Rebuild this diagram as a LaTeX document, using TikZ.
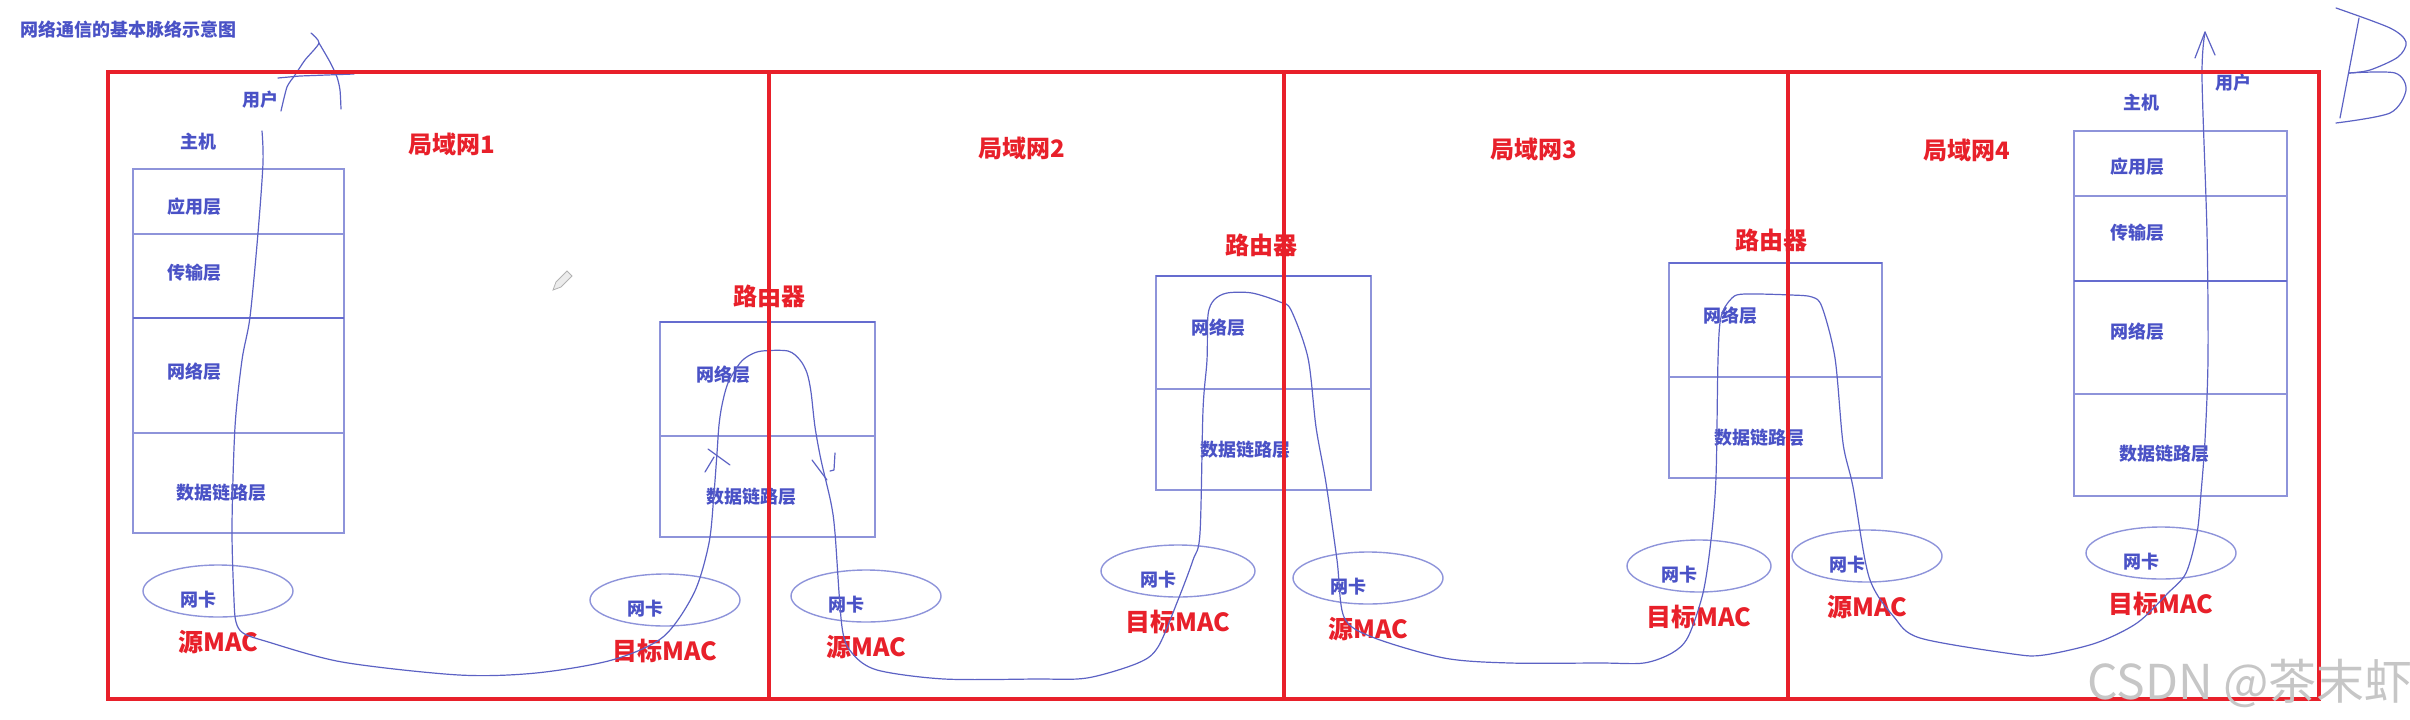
\documentclass[tikz,border=0pt]{standalone}
\usepackage{fontspec}
\setmainfont{Noto Sans CJK SC}
\usetikzlibrary{positioning,shapes.geometric}
\definecolor{lanred}{HTML}{E8202A}
\definecolor{inkblue}{HTML}{4A52C6}
\definecolor{boxline}{HTML}{8E94DA}
\definecolor{penline}{HTML}{5C62C4}

\begin{document}
\begin{tikzpicture}[x=0.5pt, y=-0.5pt,
  lan/.style={text=lanred, font=\bfseries\fontsize{12}{12}\selectfont, inner sep=0pt},
  mac/.style={text=lanred, font=\bfseries\fontsize{12.5}{12.5}\selectfont, inner sep=0pt},
  lyr/.style={text=inkblue, font=\bfseries\fontsize{9}{9}\selectfont, inner sep=0pt, anchor=west},
  tag/.style={text=inkblue, font=\bfseries\fontsize{9}{9}\selectfont, inner sep=0pt},
  nic/.style={draw=boxline, line width=0.7pt, ellipse, inner sep=0pt, minimum width=75pt, minimum height=26pt},
  stack/.style={draw=boxline, line width=0.75pt},
  sep/.style={draw=inkblue!85, line width=1.1pt},
  pen/.style={draw=penline, line width=0.6pt, line cap=round, line join=round},
  frame/.style={draw=lanred, line width=1.6pt}
]
\useasboundingbox (0,0) rectangle (2410,719);

\node[tag, anchor=west] (title) at (20,30) {网络通信的基本脉络示意图};

% host A
\draw[stack] (133,169) rectangle (344,533);
\draw[stack] (133,234) -- (344,234);
\draw[sep] (133,318) -- (344,318);
\draw[stack] (133,433) -- (344,433);
\node[tag] (userA) at (260,100) {用户};
\node[tag] (hostA) at (198,142) {主机};
\node[lyr] (appA) at (167,207) {应用层};
\node[lyr] (tcpA) at (167,273) {传输层};
\node[lyr] (ipA) at (167,372) {网络层};
\node[lyr] (dlA) at (176,493) {数据链路层};

% routers
\draw[stack] (660,322) rectangle (875,537);
\draw[sep] (660,322) -- (875,322);
\draw[stack] (660,436) -- (875,436);
\node[lan] (rt1) at (769,296) {路由器};
\node[lyr] (ip1) at (696,375) {网络层};
\node[lyr] (dl1) at (706,497) {数据链路层};

\draw[stack] (1156,276) rectangle (1371,490);
\draw[sep] (1156,276) -- (1371,276);
\draw[stack] (1156,389) -- (1371,389);
\node[lan] (rt2) at (1261,245) {路由器};
\node[lyr] (ip2) at (1191,328) {网络层};
\node[lyr] (dl2) at (1200,450) {数据链路层};

\draw[stack] (1669,263) rectangle (1882,478);
\draw[sep] (1669,263) -- (1882,263);
\draw[stack] (1669,377) -- (1882,377);
\node[lan] (rt3) at (1771,240) {路由器};
\node[lyr] (ip3) at (1703,316) {网络层};
\node[lyr] (dl3) at (1714,438) {数据链路层};

% host B
\draw[stack] (2074,131) rectangle (2287,496);
\draw[stack] (2074,196) -- (2287,196);
\draw[sep] (2074,281) -- (2287,281);
\draw[stack] (2074,394) -- (2287,394);
\node[tag] (userB) at (2233,83) {用户};
\node[tag] (hostB) at (2141,103) {主机};
\node[lyr] (appB) at (2110,167) {应用层};
\node[lyr] (tcpB) at (2110,233) {传输层};
\node[lyr] (ipB) at (2110,332) {网络层};
\node[lyr] (dlB) at (2119,454) {数据链路层};

% LAN titles
\node[lan] (lan1) at (452,144) {局域网1};
\node[lan] (lan2) at (1022,148) {局域网2};
\node[lan] (lan3) at (1534,149) {局域网3};
\node[lan] (lan4) at (1967,150) {局域网4};

% network cards
\node[nic] (e1) at (218,591) {};
\node[nic] (e2) at (665,600) {};
\node[nic] (e3) at (866,596) {};
\node[nic, minimum width=77pt] (e4) at (1178,571) {};
\node[nic] (e5) at (1368,578) {};
\node[nic, minimum width=72pt] (e6) at (1699,566) {};
\node[nic] (e7) at (1867,556) {};
\node[nic] (e8) at (2161,553) {};
\foreach \e in {1,...,8}
  \node[tag] (k\e) at ([shift={(-20,8.5)}]e\e.center) {网卡};

\node[mac] (m1) at ([yshift=-25.5pt]e1.center) {源MAC};
\node[mac] (m2) at ([yshift=-25.5pt]e2.center) {目标MAC};
\node[mac] (m3) at ([yshift=-25.5pt]e3.center) {源MAC};
\node[mac] (m4) at ([yshift=-25.5pt]e4.center) {目标MAC};
\node[mac] (m5) at ([yshift=-25.5pt]e5.center) {源MAC};
\node[mac] (m6) at ([yshift=-25.5pt]e6.center) {目标MAC};
\node[mac] (m7) at ([yshift=-25.5pt]e7.center) {源MAC};
\node[mac] (m8) at ([yshift=-25.5pt]e8.center) {目标MAC};

% hand drawn route
\draw[pen] plot[smooth, tension=0.5] coordinates {
  (262,131) (263,163) (258,233) (250,317) (242,360) (235,427) (232,527)
  (234,600) (236,622) (243,633) (265,641) (342,662) (459,675) (536,673)
  (612,660) (663,637) (694,593) (709,543) (714,493) (717,453) (719,425)
  (722,405) (728,383) (740,363) (750,355) (762,351) (788,351) (800,360)
  (807,373) (811,392) (815,427) (821,460) (831,503) (835,533) (842,627)
  (852,653) (877,670) (944,679) (1036,679) (1087,678) (1138,663) (1158,647)
  (1178,600) (1193,560) (1200,533) (1203,410) (1207,360) (1208,315)
  (1214,300) (1227,293) (1252,293) (1280,302) (1291,310) (1308,358)
  (1316,427) (1326,483) (1337,560) (1344,617) (1372,637) (1444,658)
  (1510,663) (1600,663) (1644,663) (1672,653) (1688,637) (1703,593)
  (1711,540) (1716,477) (1718,360) (1721,317) (1732,298) (1745,294)
  (1791,295) (1812,297) (1822,307) (1835,358) (1843,443) (1853,487)
  (1869,577) (1894,617) (1920,638) (2013,654) (2044,655) (2096,643)
  (2137,623) (2168,593) (2186,573) (2197,533) (2201,493) (2205,440)
  (2208,358) (2207,233) (2202,77) (2205,32)};
\draw[pen] (2195,58) -- (2205,32) -- (2215,55);
% little direction ticks in router 1
\draw[pen] (705,472) -- (714,457);
\draw[pen] (708,449) -- (730,465);
\draw[pen] (812,460) -- (827,480);
\draw[pen] (835,453) -- (834,470) -- (830,471);

% letters A and B
\draw[pen] plot[smooth, tension=0.4] coordinates {(311,33) (319,43) (305,60) (295,75) (287,87) (281,111)};
\draw[pen] plot[smooth, tension=0.4] coordinates {(319,43) (330,62) (337,77) (340,90) (341,109)};
\draw[pen] (278,78) -- (300,76) -- (354,74);
\draw[pen] (2359,18) -- (2340,118);
\draw[pen] plot[smooth, tension=0.5] coordinates {(2336,8) (2390,28) (2406,42) (2398,57) (2370,70) (2349,73)};
\draw[pen] plot[smooth, tension=0.5] coordinates {(2349,73) (2395,73) (2406,90) (2390,113) (2336,123)};

% pencil cursor
\draw[gray!60, fill=gray!15, line width=0.4pt] (553,290) -- (556,282) -- (567,271) -- (572,276) -- (561,287) -- cycle;

% LAN frame
\draw[frame] (108,72) rectangle (2319,699);
\draw[frame] (769,72) -- (769,699);
\draw[frame] (1284,72) -- (1284,699);
\draw[frame] (1788,72) -- (1788,699);

\node[text=gray!45, font=\fontsize{24}{24}\selectfont, inner sep=0pt] (wm) at (2250,683) {CSDN @茶末虾};
\end{tikzpicture}
\end{document}
